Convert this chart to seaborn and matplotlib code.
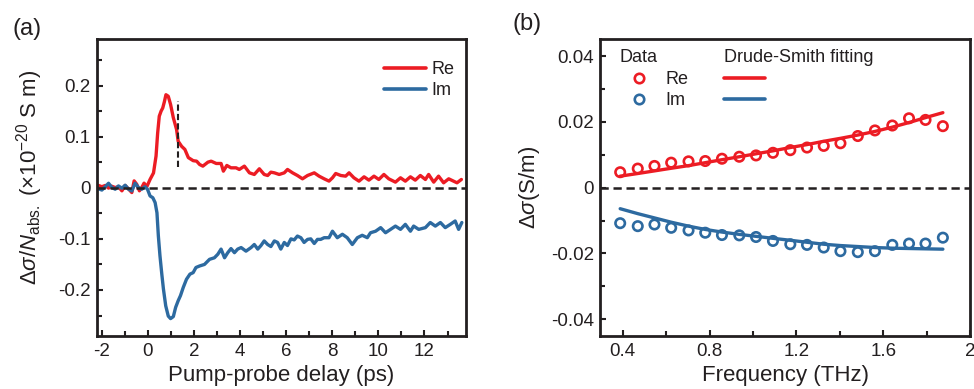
import numpy as np
import pandas as pd
import matplotlib
matplotlib.use("Agg")
import matplotlib.pyplot as plt
from matplotlib.lines import Line2D
from matplotlib.ticker import MultipleLocator
import seaborn as sns

# ---------------- data: panel (a) ----------------
t_re = [-2.13, -1.99, -1.84, -1.70, -1.56, -1.41, -1.27, -1.12, -0.98, -0.84,
        -0.69, -0.59, -0.48, -0.36, -0.26, -0.16, -0.04, 0.10, 0.25, 0.36,
        0.43, 0.50, 0.58, 0.65, 0.72, 0.79, 0.89, 0.99, 1.11, 1.25,
        1.32, 1.47, 1.61, 1.76, 1.97, 2.12, 2.25, 2.39, 2.61, 2.75,
        2.97, 3.18, 3.28, 3.43, 3.61, 3.83, 3.97, 4.19, 4.41, 4.62,
        4.84, 5.05, 5.20, 5.34, 5.49, 5.70, 5.92, 6.06, 6.28, 6.49,
        6.71, 6.93, 7.22, 7.43, 7.65, 7.86, 8.01, 8.15, 8.37, 8.58,
        8.73, 8.94, 9.16, 9.38, 9.59, 9.81, 10.02, 10.24, 10.45, 10.74,
        10.96, 11.17, 11.39, 11.60, 11.82, 12.04, 12.18, 12.40, 12.61, 12.83,
        13.05, 13.26, 13.41, 13.60]
re_trace = [0.0045, 0.0020, 0.0045, -0.0007, 0.0030, 0.0004, 0.0020, -0.0060, 0.0045, -0.0020,
            -0.0094, 0.0134, 0.0070, -0.0060, 0.0004, 0.0090, 0.0020, 0.0162, 0.0290, 0.0620,
            0.1070, 0.1400, 0.1500, 0.1560, 0.1680, 0.1820, 0.1790, 0.1630, 0.1370, 0.1140,
            0.0910, 0.0810, 0.0750, 0.0590, 0.0530, 0.0520, 0.0455, 0.0423, 0.0501, 0.0520,
            0.0475, 0.0475, 0.0325, 0.0436, 0.0390, 0.0390, 0.0358, 0.0423, 0.0292, 0.0260,
            0.0371, 0.0260, 0.0240, 0.0305, 0.0292, 0.0260, 0.0292, 0.0358, 0.0292, 0.0240,
            0.0175, 0.0240, 0.0292, 0.0227, 0.0175, 0.0130, 0.0195, 0.0279, 0.0240, 0.0227,
            0.0292, 0.0195, 0.0129, 0.0214, 0.0149, 0.0227, 0.0162, 0.0260, 0.0175, 0.0110,
            0.0195, 0.0129, 0.0214, 0.0149, 0.0240, 0.0162, 0.0260, 0.0110, 0.0227, 0.0097,
            0.0175, 0.0129, 0.0097, 0.0162]

t_im = [-2.13, -1.99, -1.84, -1.70, -1.55, -1.41, -1.27, -1.12, -0.98, -0.83,
        -0.69, -0.55, -0.40, -0.26, -0.12, -0.01, 0.10, 0.22, 0.32, 0.40,
        0.46, 0.53, 0.61, 0.68, 0.78, 0.89, 0.99, 1.11, 1.21, 1.32,
        1.42, 1.54, 1.68, 1.83, 1.97, 2.09, 2.25, 2.46, 2.68, 2.89,
        3.04, 3.18, 3.33, 3.47, 3.61, 3.76, 3.90, 4.05, 4.26, 4.48,
        4.62, 4.77, 4.91, 5.05, 5.20, 5.34, 5.49, 5.63, 5.77, 5.92,
        6.06, 6.21, 6.35, 6.49, 6.64, 6.78, 6.93, 7.07, 7.22, 7.36,
        7.50, 7.65, 7.86, 8.01, 8.22, 8.44, 8.65, 8.87, 9.09, 9.30,
        9.52, 9.66, 9.88, 10.10, 10.31, 10.53, 10.74, 10.96, 11.17, 11.39,
        11.53, 11.75, 12.04, 12.25, 12.47, 12.69, 12.90, 13.12, 13.33, 13.48,
        13.62]
im_trace = [-0.0020, -0.0045, 0.0020, 0.0088, 0.0004, -0.0029, 0.0036, -0.0009, 0.0049, -0.0029,
            -0.0062, 0.0088, 0.0004, -0.0029, 0.0020, -0.0030, -0.0160, -0.0195, -0.0290, -0.0490,
            -0.0940, -0.1330, -0.1690, -0.1980, -0.2310, -0.2510, -0.2560, -0.2520, -0.2340, -0.2210,
            -0.2110, -0.1950, -0.1790, -0.1690, -0.1660, -0.1560, -0.1530, -0.1500, -0.1400, -0.1370,
            -0.1300, -0.1200, -0.1370, -0.1270, -0.1190, -0.1270, -0.1200, -0.1170, -0.1240, -0.1170,
            -0.1110, -0.1200, -0.1130, -0.1040, -0.1110, -0.1150, -0.1040, -0.1070, -0.1200, -0.1070,
            -0.1130, -0.1000, -0.1020, -0.0945, -0.0977, -0.1070, -0.1010, -0.1000, -0.1090, -0.1010,
            -0.1010, -0.0977, -0.0977, -0.0850, -0.0977, -0.0910, -0.0977, -0.1110, -0.0977, -0.0930,
            -0.0977, -0.0880, -0.0850, -0.0780, -0.0880, -0.0814, -0.0750, -0.0814, -0.0716, -0.0850,
            -0.0750, -0.0814, -0.0780, -0.0680, -0.0750, -0.0680, -0.0780, -0.0716, -0.0650, -0.0814,
            -0.0680]

# vertical guide marker in panel (a)
guide_t = 1.30
guide_low = 0.040
guide_high = 0.170

# ---------------- data: panel (b) ----------------
freq = [0.388, 0.469, 0.546, 0.623, 0.703, 0.780, 0.857, 0.937, 1.014, 1.092,
        1.172, 1.249, 1.326, 1.403, 1.483, 1.562, 1.642, 1.719, 1.795, 1.875]
re_data = [0.0047, 0.0058, 0.0066, 0.0076, 0.0080, 0.0081, 0.0088, 0.0094, 0.0098, 0.0106,
           0.0114, 0.0122, 0.0127, 0.0135, 0.0157, 0.0174, 0.0189, 0.0211, 0.0206, 0.0187]
im_data = [-0.0108, -0.0117, -0.0112, -0.0122, -0.0130, -0.0137, -0.0144, -0.0145, -0.0150, -0.0162,
           -0.0172, -0.0174, -0.0182, -0.0193, -0.0196, -0.0193, -0.0174, -0.0170, -0.0170, -0.0152]
re_fit = [0.0035, 0.0043, 0.0051, 0.0059, 0.0067, 0.0076, 0.0085, 0.0094, 0.0103, 0.0112,
          0.0122, 0.0131, 0.0141, 0.0150, 0.0160, 0.0171, 0.0184, 0.0198, 0.0213, 0.0228]
im_fit = [-0.0064, -0.0079, -0.0092, -0.0105, -0.0117, -0.0127, -0.0135, -0.0142, -0.0148, -0.0154,
          -0.0160, -0.0166, -0.0172, -0.0176, -0.0179, -0.0182, -0.0184, -0.0185, -0.0186, -0.0187]

a_xticks = [-2, 0, 2, 4, 6, 8, 10, 12]
a_yticks = [-0.2, -0.1, 0, 0.1, 0.2]
a_yticklabels = ["-0.2", "-0.1", "0", "0.1", "0.2"]
b_xticks = [0.4, 0.8, 1.2, 1.6, 2.0]
b_xticklabels = ["0.4", "0.8", "1.2", "1.6", "2"]
b_yticks = [-0.04, -0.02, 0, 0.02, 0.04]
b_yticklabels = ["-0.04", "-0.02", "0", "0.02", "0.04"]

RED = "#EC1C24"
BLUE = "#2D6AA0"

# ---------------- style ----------------
sns.set_style("ticks")
plt.rcParams["font.family"] = ["Liberation Sans", "DejaVu Sans"]
plt.rcParams["mathtext.fontset"] = "custom"
plt.rcParams["mathtext.rm"] = "Liberation Sans"
plt.rcParams["mathtext.it"] = "Liberation Sans:italic"
plt.rcParams["axes.unicode_minus"] = False
plt.rcParams["text.color"] = "#231F20"
plt.rcParams["axes.labelcolor"] = "#231F20"
plt.rcParams["xtick.color"] = "#231F20"
plt.rcParams["ytick.color"] = "#231F20"

TICK_FS = 13.5
LABEL_FS = 16
LEG_FS = 13

fig = plt.figure(figsize=(9.74, 3.89), dpi=100)
ax_a = fig.add_axes([97 / 974, 53 / 389, 369 / 974, 297 / 389])
ax_b = fig.add_axes([600 / 974, 53 / 389, 370 / 974, 297 / 389])

def style_axes(ax):
    for sp in ax.spines.values():
        sp.set_linewidth(2.0)
        sp.set_color("#231F20")
        sp.set_visible(True)
    ax.tick_params(which="both", direction="in", top=False, right=False,
                   width=1.5, labelsize=TICK_FS, color="#231F20")
    ax.tick_params(which="major", length=4.5)
    ax.tick_params(which="minor", length=3.5)
    ax.tick_params(axis="x", pad=5)
    ax.tick_params(axis="y", pad=4.5)

# ---------------- panel (a) ----------------
df_re = pd.DataFrame({"t": t_re, "v": re_trace})
df_im = pd.DataFrame({"t": t_im, "v": im_trace})
sns.lineplot(data=df_re, x="t", y="v", ax=ax_a, color=RED, lw=2.4,
             estimator=None, sort=False, legend=False)
sns.lineplot(data=df_im, x="t", y="v", ax=ax_a, color=BLUE, lw=2.4,
             estimator=None, sort=False, legend=False)
ax_a.axhline(0, color="#231F20", lw=1.8, ls=(0, (3.3, 1.9)), zorder=4)
ax_a.vlines(guide_t, guide_low, guide_high, color="#231F20", lw=1.5,
            linestyles=(0, (3.0, 1.5)), zorder=4)

ax_a.set_xlim(-2.2, 13.8)
ax_a.set_ylim(-0.29, 0.291)
ax_a.set_xticks(a_xticks)
ax_a.set_xticklabels([str(v) for v in a_xticks])
ax_a.set_yticks(a_yticks)
ax_a.set_yticklabels(a_yticklabels)
ax_a.xaxis.set_minor_locator(MultipleLocator(1))
ax_a.yaxis.set_minor_locator(MultipleLocator(0.05))
style_axes(ax_a)
ax_a.set_xlabel("Pump-probe delay (ps)", fontsize=LABEL_FS)
ax_a.set_ylabel(r"$\mathit{\Delta\sigma}/\mathit{N}_{\mathrm{abs.}}$ (×10$^{-20}$ S m)",
                fontsize=LABEL_FS)
ax_a.xaxis.set_label_coords(0.5, -0.098)
ax_a.yaxis.set_label_coords(-0.141, 0.535)

leg_a_handles = [Line2D([], [], color=RED, lw=2.6), Line2D([], [], color=BLUE, lw=2.6)]
ax_a.legend(leg_a_handles, ["Re", "Im"], loc="upper left", bbox_to_anchor=(0.778, 0.925),
            frameon=False, fontsize=LEG_FS, handlelength=2.3, handletextpad=0.3,
            labelspacing=0.23, borderpad=0, borderaxespad=0)

# ---------------- panel (b) ----------------
df_b = pd.DataFrame({"f": freq, "re": re_data, "im": im_data, "ref": re_fit, "imf": im_fit})
sns.lineplot(data=df_b, x="f", y="ref", ax=ax_b, color=RED, lw=2.4,
             estimator=None, sort=False, legend=False)
sns.lineplot(data=df_b, x="f", y="imf", ax=ax_b, color=BLUE, lw=2.4,
             estimator=None, sort=False, legend=False)
sns.scatterplot(data=df_b, x="f", y="re", ax=ax_b, marker="o", s=46,
                linewidth=1.9, legend=False, zorder=3)
ax_b.collections[-1].set_facecolor("none")
ax_b.collections[-1].set_edgecolor(RED)
sns.scatterplot(data=df_b, x="f", y="im", ax=ax_b, marker="o", s=46,
                linewidth=1.9, legend=False, zorder=3)
ax_b.collections[-1].set_facecolor("none")
ax_b.collections[-1].set_edgecolor(BLUE)
ax_b.axhline(0, color="#231F20", lw=1.8, ls=(0, (3.3, 1.9)), zorder=4)

ax_b.set_xlim(0.295, 2.0)
ax_b.set_ylim(-0.0451, 0.0452)
ax_b.set_xticks(b_xticks)
ax_b.set_xticklabels(b_xticklabels)
ax_b.set_yticks(b_yticks)
ax_b.set_yticklabels(b_yticklabels)
ax_b.xaxis.set_minor_locator(MultipleLocator(0.2))
ax_b.yaxis.set_minor_locator(MultipleLocator(0.01))
style_axes(ax_b)
ax_b.set_xlabel("Frequency (THz)", fontsize=LABEL_FS)
ax_b.set_ylabel(r"$\mathit{\Delta\sigma}$(S/m)", fontsize=LABEL_FS)
ax_b.xaxis.set_label_coords(0.5, -0.098)
ax_b.yaxis.set_label_coords(-0.157, 0.5)

data_handles = [Line2D([], [], ls="", marker="o", ms=6.8, mew=1.9, mfc="none", mec=RED),
                Line2D([], [], ls="", marker="o", ms=6.8, mew=1.9, mfc="none", mec=BLUE)]
leg1 = ax_b.legend(data_handles, ["Re", "Im"], title="Data", loc="upper left",
                   bbox_to_anchor=(0.054, 0.965), frameon=False, fontsize=LEG_FS,
                   title_fontsize=LEG_FS, alignment="left", handlelength=2.1,
                   handletextpad=0.4, labelspacing=0.25, borderpad=0, borderaxespad=0)
ax_b.add_artist(leg1)
fit_handles = [Line2D([], [], color=RED, lw=2.6), Line2D([], [], color=BLUE, lw=2.6)]
ax_b.legend(fit_handles, [" ", " "], title="Drude-Smith fitting", loc="upper left",
            bbox_to_anchor=(0.335, 0.965), frameon=False, fontsize=LEG_FS,
            title_fontsize=LEG_FS, alignment="left", handlelength=2.3,
            handletextpad=0.3, labelspacing=0.25, borderpad=0, borderaxespad=0)

# ---------------- panel labels ----------------
fig.text(13 / 974, 1 - 29 / 389, "(a)", fontsize=17, ha="left", va="center")
fig.text(513 / 974, 1 - 24 / 389, "(b)", fontsize=17, ha="left", va="center")

fig.savefig("out.png", dpi=100)
